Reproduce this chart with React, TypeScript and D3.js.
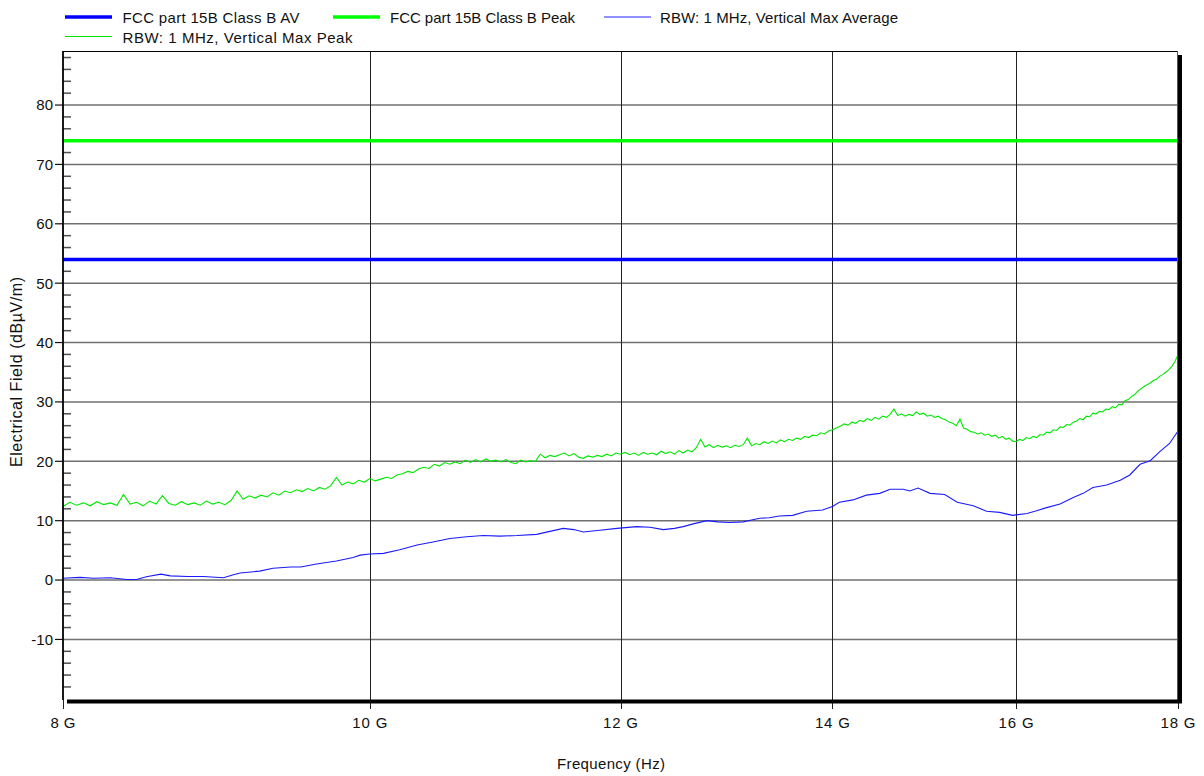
import React from "react";
import * as d3 from "d3";

// ---- Data ----
const X_TICKS_GHZ = [8, 10, 12, 14, 16, 18];
const X_TICK_LABELS = ["8 G", "10 G", "12 G", "14 G", "16 G", "18 G"];
const Y_TICKS = [-10, 0, 10, 20, 30, 40, 50, 60, 70, 80];
const Y_MINOR_TICKS = [-18, -16, -14, -12, -8, -6, -4, -2, 2, 4, 6, 8, 12, 14, 16, 18, 22, 24, 26, 28, 32, 34, 36, 38, 42, 44, 46, 48, 52, 54, 56, 58, 62, 64, 66, 68, 72, 74, 76, 78, 82, 84, 86, 88];

const LIMIT_AV = 54;
const LIMIT_PEAK = 74;

const LEGEND_LABELS = [
  "FCC part 15B Class B AV",
  "FCC part 15B Class B Peak",
  "RBW: 1 MHz, Vertical Max Average",
  "RBW: 1 MHz, Vertical Max Peak",
];

// Average trace: [GHz, dBµV/m]
const AVG_TRACE: [number, number][] = [
  [8.0, 0.3], [8.1, 0.45], [8.18, 0.3], [8.28, 0.4], [8.38, 0.1], [8.44, 0.1], [8.5, 0.55], [8.59, 1.0],
  [8.65, 0.7], [8.76, 0.6], [8.86, 0.6], [8.99, 0.4], [9.05, 0.85], [9.1, 1.2], [9.23, 1.5], [9.32, 2.0],
  [9.44, 2.2], [9.51, 2.2], [9.62, 2.7], [9.76, 3.2], [9.88, 3.8], [9.93, 4.2], [10.0, 4.4], [10.1, 4.5],
  [10.22, 5.1], [10.35, 5.9], [10.47, 6.4], [10.6, 7.0], [10.73, 7.3], [10.86, 7.5], [10.99, 7.4], [11.13, 7.5],
  [11.29, 7.7], [11.4, 8.2], [11.51, 8.7], [11.6, 8.5], [11.68, 8.1], [11.82, 8.4], [11.97, 8.7], [12.14, 9.0],
  [12.26, 8.9], [12.38, 8.5], [12.48, 8.7], [12.56, 9.0], [12.66, 9.5], [12.78, 10.0], [12.88, 9.8], [12.99, 9.7],
  [13.12, 9.8], [13.2, 10.1], [13.28, 10.4], [13.37, 10.5], [13.47, 10.8], [13.6, 10.9], [13.74, 11.6], [13.9, 11.8],
  [14.0, 12.4], [14.07, 13.1], [14.21, 13.5], [14.35, 14.3], [14.49, 14.6], [14.6, 15.3], [14.74, 15.3], [14.81, 15.0],
  [14.9, 15.5], [14.96, 15.1], [15.03, 14.6], [15.19, 14.4], [15.33, 13.1], [15.51, 12.5], [15.66, 11.6], [15.81, 11.4],
  [15.96, 10.9], [16.13, 11.2], [16.25, 11.7], [16.36, 12.2], [16.52, 12.8], [16.68, 13.9], [16.8, 14.6], [16.92, 15.6],
  [17.09, 16.0], [17.26, 16.8], [17.38, 17.7], [17.51, 19.5], [17.64, 20.1], [17.76, 21.6], [17.89, 23.0], [18.0, 25.1],
];

// Peak trace: sweep from 8 GHz in 0.04 GHz steps
const PEAK_START_GHZ = 8;
const PEAK_STEP_GHZ = 0.04;
const PEAK_VALUES = [
  12.4, 13.1, 12.6, 13.0, 12.5, 13.2, 12.7, 13.0, 12.6, 14.4, 12.8, 13.1, 12.5, 13.3, 12.8, 14.2, 12.9, 12.6, 13.2, 12.7, 13.0, 12.6, 13.3, 12.8, 13.1,
  12.7, 13.4, 15.0, 13.6, 14.2, 13.8, 14.3, 14.0, 14.7, 14.3, 15.0, 14.7, 15.2, 14.9, 15.4, 15.0, 15.6, 15.3, 15.9, 17.3, 16.0, 16.5, 16.2, 16.8, 16.5,
  17.1, 16.7, 17.0, 17.3, 17.1, 17.7, 17.9, 18.3, 18.1, 18.7, 19.0, 18.8, 19.5, 19.2, 19.8, 19.5, 19.9, 19.6, 20.2, 19.8, 20.3, 19.9, 20.4, 20.0, 20.2,
  19.9, 20.3, 19.8, 19.6, 20.2, 19.9, 20.1, 20.0, 21.2, 20.6, 21.0, 20.8, 21.1, 21.4, 20.9, 21.3, 20.7, 20.5, 20.9, 20.7, 21.0, 20.8, 21.2, 20.9, 21.4,
  21.2, 21.5, 21.1, 21.4, 21.0, 21.5, 21.2, 21.4, 21.1, 21.7, 21.3, 21.6, 21.2, 21.8, 21.4, 21.9, 21.6, 22.3, 23.7, 22.4, 22.8, 22.3, 22.7, 22.4, 22.6,
  22.3, 22.7, 22.5, 22.8, 23.9, 22.6, 23.0, 22.8, 23.3, 23.0, 23.4, 23.1, 23.6, 23.3, 23.7, 23.5, 23.9, 23.7, 24.2, 24.0, 24.4, 24.3, 24.8, 24.6, 25.1,
  25.3, 25.6, 25.9, 26.3, 26.1, 26.6, 26.4, 26.9, 26.7, 27.2, 26.9, 27.4, 27.1, 27.6, 27.4, 27.9, 28.8, 27.7, 28.0, 27.6, 27.9, 27.7, 28.3, 27.9, 28.1,
  27.6, 27.8, 27.4, 27.6, 27.2, 27.0, 26.6, 26.4, 26.0, 27.1, 25.6, 25.4, 25.0, 24.9, 24.6, 24.8, 24.4, 24.6, 24.2, 24.4, 23.9, 24.2, 23.7, 23.9, 23.4,
  23.3, 23.7, 23.5, 24.0, 23.8, 24.2, 24.0, 24.5, 24.4, 24.9, 24.8, 25.3, 25.2, 25.8, 25.7, 26.2, 26.1, 26.6, 26.8, 27.2, 27.0, 27.6, 27.5, 28.1, 28.0,
  28.4, 28.3, 28.8, 28.7, 29.2, 29.0, 29.6, 29.5, 30.2, 30.4, 30.9, 31.2, 31.8, 32.2, 32.6, 32.9, 33.2, 33.6, 33.8, 34.3, 34.6, 35.0, 35.4, 36.0, 36.8,
  37.9,
];

const FONT = "'Liberation Sans', Arial, Helvetica, sans-serif";

export default function App() {
  const W = 1204;
  const H = 776;
  const L = 63, R = 1178, T = 51, B = 700;

  const x = d3.scaleLog().domain([8, 18]).range([L, R]);
  const y = d3.scaleLinear().domain([-20.2, 89.1]).range([B, T]);

  const peakPts: [number, number][] = PEAK_VALUES.map((v, i) => [PEAK_START_GHZ + i * PEAK_STEP_GHZ, v]);

  const line = d3
    .line<[number, number]>()
    .x((d) => x(d[0]))
    .y((d) => y(d[1]));

  const snap = (v: number) => Math.round(v) + 0.5;

  const legendItems = [
    { lx: 65, ly: 17, tx: 122.5, ty: 22.7, len: 177, color: "#0000ff", w: 3.5, label: LEGEND_LABELS[0] },
    { lx: 333, ly: 17, tx: 390, ty: 22.7, len: 185, color: "#00ff00", w: 3.5, label: LEGEND_LABELS[1] },
    { lx: 604, ly: 17, tx: 660, ty: 22.7, len: 238, color: "#2020ff", w: 1, label: LEGEND_LABELS[2] },
    { lx: 65, ly: 36.5, tx: 122.5, ty: 42.7, len: 230, color: "#00e800", w: 1, label: LEGEND_LABELS[3] },
  ];

  const xLabelLen = (s: string) => (s.length === 3 ? 25 : 35);

  return (
    <svg
      width={W}
      height={H}
      style={{ position: "absolute", left: 0, top: 0, display: "block", background: "#fff" }}
      fontFamily={FONT}
    >
      <defs>
        <clipPath id="plotClip">
          <rect x={L} y={T} width={R - L} height={B - T} />
        </clipPath>
      </defs>

      {/* Legend */}
      {legendItems.map((it, i) => (
        <g key={i}>
          <line x1={it.lx} x2={it.lx + 47} y1={it.ly} y2={it.ly} stroke={it.color} strokeWidth={it.w} />
          <text x={it.tx} y={it.ty} fontSize={15} fill="#111" textLength={it.len} lengthAdjust="spacing">
            {it.label}
          </text>
        </g>
      ))}

      {/* Horizontal gridlines */}
      {Y_TICKS.map((t) => (
        <line key={"hg" + t} x1={L} x2={R} y1={y(t)} y2={y(t)} stroke="#707070" strokeWidth={1.5} />
      ))}

      {/* Vertical gridlines and ticks */}
      {X_TICKS_GHZ.map((t, i) => {
        const inner = i > 0 && i < X_TICKS_GHZ.length - 1;
        return (
          <line
            key={"vg" + t}
            x1={snap(x(t))}
            x2={snap(x(t))}
            y1={inner ? T : B}
            y2={709}
            stroke="#222"
            strokeWidth={1}
          />
        );
      })}

      {/* Minor ticks */}
      {Y_MINOR_TICKS.map((t) => (
        <line key={"mt" + t} x1={L} x2={L + 8} y1={y(t)} y2={y(t)} stroke="#505050" strokeWidth={1.5} />
      ))}

      {/* Major ticks (outside) */}
      {Y_TICKS.map((t) => (
        <line key={"mj" + t} x1={55} x2={L} y1={y(t)} y2={y(t)} stroke="#111" strokeWidth={1.2} />
      ))}

      {/* Data */}
      <g clipPath="url(#plotClip)">
        <line x1={L} x2={R} y1={y(LIMIT_PEAK)} y2={y(LIMIT_PEAK)} stroke="#00ff00" strokeWidth={3.5} />
        <line x1={L} x2={R} y1={y(LIMIT_AV)} y2={y(LIMIT_AV)} stroke="#0000ff" strokeWidth={3.5} />
        <path d={line(peakPts) || ""} fill="none" stroke="#00e800" strokeWidth={1.1} />
        <path d={line(AVG_TRACE) || ""} fill="none" stroke="#1a1aff" strokeWidth={1.1} />
      </g>

      {/* Frame */}
      <line x1={L} x2={R} y1={T + 0.5} y2={T + 0.5} stroke="#000" strokeWidth={1} />
      <line x1={L} x2={L} y1={T} y2={B} stroke="#000" strokeWidth={1.8} />
      <line x1={R - 0.5} x2={R - 0.5} y1={T} y2={B} stroke="#555" strokeWidth={1} />
      <rect x={R} y={55} width={4} height={B + 3 - 55} fill="#000" />
      <rect x={67} y={B - 0.5} width={R + 4 - 67} height={4} fill="#000" />

      {/* Y tick labels */}
      {Y_TICKS.map((t) => (
        <text key={"yl" + t} x={53} y={y(t) + 5.4} fontSize={15} textAnchor="end" fill="#111">
          {t}
        </text>
      ))}

      {/* X tick labels */}
      {X_TICK_LABELS.map((lab, i) => (
        <text
          key={"xl" + lab}
          x={x(X_TICKS_GHZ[i])}
          y={727.5}
          fontSize={15}
          textAnchor="middle"
          fill="#111"
          textLength={xLabelLen(lab)}
          lengthAdjust="spacing"
        >
          {lab}
        </text>
      ))}

      {/* Axis titles */}
      <text x={611} y={769} fontSize={15} textAnchor="middle" fill="#111" textLength={108} lengthAdjust="spacing">
        Frequency (Hz)
      </text>
      <text
        transform={`translate(22, 372) rotate(-90)`}
        fontSize={16}
        textAnchor="middle"
        fill="#111"
        textLength={190}
        lengthAdjust="spacing"
      >
        Electrical Field (dBµV/m)
      </text>
    </svg>
  );
}
